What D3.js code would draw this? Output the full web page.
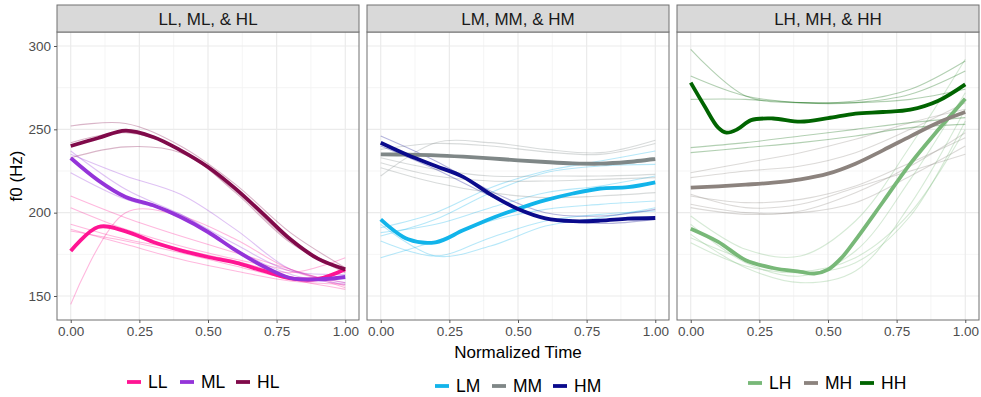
<!DOCTYPE html>
<html><head><meta charset="utf-8">
<script src="https://cdn.jsdelivr.net/npm/d3@7"></script>
<style>body{margin:0;background:#fff;} text{font-family:"Liberation Sans",Arial,sans-serif;}</style>
</head><body><div id="chart"></div>
<script>
// ---------- DATA ----------
const panelTitles = ["LL, ML, & HL", "LM, MM, & HM", "LH, MH, & HH"];
const seriesNames = [["LL","ML","HL"],["LM","MM","HM"],["LH","MH","HH"]];
const seriesColors = {
  LL:"#ff1493", ML:"#9434d9", HL:"#800a4a",
  LM:"#12b4ea", MM:"#7f8787", HM:"#0a0a8c",
  LH:"#78b878", MH:"#8c837e", HH:"#006400"
};
const xTicks = [0, 0.25, 0.5, 0.75, 1];
const xTickLabels = ["0.00","0.25","0.50","0.75","1.00"];
const yTicks = [150, 200, 250, 300];

// time grid for the mean (bold) lines
const tMean = [0, 0.1, 0.2, 0.3, 0.4, 0.5, 0.6, 0.7, 0.8, 0.9, 1];
const meanLL = [177, 191.4, 188.8, 182.4, 177.4, 173.4, 170, 165.2, 160.6, 160.2, 166];
const meanML = [232.8, 219.4, 209.4, 204.4, 197.4, 188.4, 177.5, 168, 160.8, 160, 161.4];
const meanHL = [240, 244.8, 249.2, 245.4, 237.4, 227.4, 214.4, 199.4, 184, 172.4, 166];
const meanLM = [196, 184, 182.2, 189.4, 196.4, 202.3, 207.5, 211.5, 214.5, 215.3, 218.2];
const meanMM = [235, 234.8, 234.4, 233.6, 232.6, 231.4, 230.4, 229.6, 229.4, 230.4, 232.2];
const meanHM = [242, 234.5, 228, 221.5, 211, 202.2, 196.6, 194.9, 195.2, 196.4, 196.8];
const tHH = [0, 0.05, 0.1, 0.13, 0.17, 0.22, 0.3, 0.4, 0.5, 0.6, 0.7, 0.8, 0.9, 1];
const meanHH = [278, 264, 251, 248, 250, 255.5, 256.5, 254.6, 256.7, 259.4, 260.4, 261.8, 267, 277];
const tLH = [0, 0.1, 0.2, 0.3, 0.4, 0.45, 0.5, 0.55, 0.6, 0.7, 0.8, 0.9, 1];
const meanLH = [190.4, 182.5, 171.5, 166.8, 164.5, 163.4, 165.8, 173, 183.5, 206.4, 229.4, 249.4, 268.4];
const meanMH = [215, 215.8, 216.8, 218, 220, 223.4, 229.4, 237.4, 245.8, 254, 260.4];

// time grid for individual (thin) lines
const tThin = [0, 0.2, 0.4, 0.6, 0.8, 1];
const thinLL = [
  [145, 200, 198, 184, 166, 158],
  [210, 197, 186, 176, 166, 156],
  [203, 190, 180, 172, 165, 155],
  [193, 184, 178, 171, 164, 173],
  [189, 183, 176, 168, 160, 154],
  [190, 181, 172, 165, 159, 157]
];
const thinML = [
  [235, 222, 211, 190, 166, 158],
  [224, 208, 199, 178, 163, 157],
  [237, 214, 199, 181, 165, 163]
];
const thinHL = [
  [252, 253.5, 240, 217, 188, 167],
  [233, 239.5, 236, 213, 183, 165],
  [242, 248, 238, 212, 182, 164]
];
const thinLM = [
  [191, 200, 215, 225, 231, 237],
  [186, 196, 212, 224, 228, 229],
  [188, 193, 203, 212, 216, 222],
  [173, 183, 195, 202, 205, 207],
  [193, 174, 180, 192, 197, 203],
  [183, 174, 185, 195, 199, 201]
];
const thinMM = [
  [222, 242, 242, 238, 236, 243.5],
  [238, 241.5, 240, 236.5, 235, 241.5],
  [233, 226, 222, 222, 222, 223],
  [230, 222, 219, 219, 220, 221],
  [227, 218, 212, 209, 210, 212]
];
const thinHM = [
  [246, 231, 213, 200, 198, 202],
  [240, 226, 210, 197, 193.5, 196]
];
const thinLH = [
  [198, 178, 174, 195, 240, 292],
  [193, 170, 162, 177, 220, 272],
  [187, 167, 158, 165, 205, 262],
  [185, 172, 165, 173, 200, 250],
  [182, 168, 164, 170, 198, 255]
];
const thinMH = [
  [224, 230, 236, 244, 254, 262],
  [221, 225, 228, 236, 250, 266],
  [210, 206, 208, 216, 230, 245],
  [205, 200, 200, 206, 222, 240],
  [203, 199, 201, 212, 228, 248],
  [211, 203, 205, 215, 225, 235]
];
const thinHH = [
  [298, 270, 266, 267, 274, 291],
  [282, 270, 266, 266, 271, 285],
  [268, 268, 266, 266, 268, 274],
  [239, 242, 246, 250, 254, 257],
  [236, 239, 242, 246, 251, 253]
];

const panels = [
  { thin: [["LL",thinLL],["ML",thinML],["HL",thinHL]],
    mean: [["LL",tMean,meanLL],["ML",tMean,meanML],["HL",tMean,meanHL]] },
  { thin: [["LM",thinLM],["MM",thinMM],["HM",thinHM]],
    mean: [["LM",tMean,meanLM],["MM",tMean,meanMM],["HM",tMean,meanHM]] },
  { thin: [["LH",thinLH],["MH",thinMH],["HH",thinHH]],
    mean: [["LH",tLH,meanLH],["MH",tMean,meanMH],["HH",tHH,meanHH]] }
];

// ---------- LAYOUT ----------
const W = 981, H = 397;
const panelLeft = [57, 367, 677], panelW = 302;
const stripTop = 5, plotTop = 32, plotBottom = 320;
const legendY = [382, 386, 383];
const legendX = [[127,180,236],[435,492,553],[748,804,860]];

const svg = d3.select("#chart").append("svg").attr("width", W).attr("height", H);
svg.append("rect").attr("width", W).attr("height", H).attr("fill", "#fff");

const y = d3.scaleLinear().domain([135.6, 308.4]).range([plotBottom, plotTop]);
const line = (x) => d3.line().x(d => x(d[0])).y(d => y(d[1])).curve(d3.curveCatmullRom.alpha(0.5));

panels.forEach((p, i) => {
  const L = panelLeft[i];
  const x = d3.scaleLinear().domain([-0.05, 1.05]).range([L, L + panelW]);
  const g = svg.append("g");
  svg.append("clipPath").attr("id", "clip" + i).append("rect")
    .attr("x", L).attr("y", plotTop).attr("width", panelW).attr("height", plotBottom - plotTop);
  // minor grid
  [0.125, 0.375, 0.625, 0.875].forEach(v => g.append("line")
    .attr("x1", x(v)).attr("x2", x(v)).attr("y1", plotTop).attr("y2", plotBottom)
    .attr("stroke", "#f2f2f2").attr("stroke-width", 0.8));
  [175, 225, 275].forEach(v => g.append("line")
    .attr("x1", L).attr("x2", L + panelW).attr("y1", y(v)).attr("y2", y(v))
    .attr("stroke", "#f2f2f2").attr("stroke-width", 0.8));
  // major grid
  xTicks.forEach(v => g.append("line")
    .attr("x1", x(v)).attr("x2", x(v)).attr("y1", plotTop).attr("y2", plotBottom)
    .attr("stroke", "#ebebeb").attr("stroke-width", 1.2));
  yTicks.forEach(v => g.append("line")
    .attr("x1", L).attr("x2", L + panelW).attr("y1", y(v)).attr("y2", y(v))
    .attr("stroke", "#ebebeb").attr("stroke-width", 1.2));

  const lg = svg.append("g").attr("clip-path", `url(#clip${i})`);
  const ln = line(x);
  p.thin.forEach(([name, arr]) => {
    arr.forEach(vals => {
      lg.append("path").attr("d", ln(tThin.map((t, k) => [t, vals[k]])))
        .attr("fill", "none").attr("stroke", seriesColors[name])
        .attr("stroke-opacity", 0.3).attr("stroke-width", 1.1);
    });
  });
  p.mean.forEach(([name, ts, vals]) => {
    lg.append("path").attr("d", ln(ts.map((t, k) => [t, vals[k]])))
      .attr("fill", "none").attr("stroke", seriesColors[name])
      .attr("stroke-width", 3.8).attr("stroke-linejoin", "round").attr("stroke-linecap", "butt");
  });

  // panel border
  svg.append("rect").attr("x", L).attr("y", plotTop).attr("width", panelW).attr("height", plotBottom - plotTop)
    .attr("fill", "none").attr("stroke", "#707070").attr("stroke-width", 1);
  // strip
  svg.append("rect").attr("x", L).attr("y", stripTop).attr("width", panelW).attr("height", plotTop - stripTop)
    .attr("fill", "#d9d9d9").attr("stroke", "#707070").attr("stroke-width", 1);
  svg.append("text").attr("x", L + panelW / 2).attr("y", (stripTop + plotTop) / 2 + 6)
    .attr("text-anchor", "middle").attr("font-size", 17).attr("fill", "#1a1a1a").text(panelTitles[i]);

  // x axis
  const xa = svg.append("g").attr("transform", `translate(0,${plotBottom})`)
    .call(d3.axisBottom(x).tickValues(xTicks).tickFormat((d, k) => xTickLabels[k]).tickSize(3).tickPadding(3));
  xa.select(".domain").remove();
  xa.selectAll("line").attr("stroke", "#555");
  xa.selectAll("text").attr("font-size", 13.5).attr("fill", "#4d4d4d")
    .attr("font-family", "'Liberation Sans',Arial,sans-serif");

  if (i === 0) {
    const ya = svg.append("g").attr("transform", `translate(${L},0)`)
      .call(d3.axisLeft(y).tickValues(yTicks).tickSize(3).tickPadding(3));
    ya.select(".domain").remove();
    ya.selectAll("line").attr("stroke", "#555");
    ya.selectAll("text").attr("font-size", 13.5).attr("fill", "#4d4d4d")
      .attr("font-family", "'Liberation Sans',Arial,sans-serif");
  }

  // legend
  seriesNames[i].forEach((name, k) => {
    const lx = legendX[i][k], ly = legendY[i];
    svg.append("line").attr("x1", lx).attr("x2", lx + 14).attr("y1", ly).attr("y2", ly)
      .attr("stroke", seriesColors[name]).attr("stroke-width", 3.8);
    svg.append("text").attr("x", lx + 21).attr("y", ly + 6).attr("font-size", 17.5)
      .attr("fill", "#000").text(name);
  });
});

// axis titles
svg.append("text").attr("x", 518).attr("y", 358).attr("text-anchor", "middle")
  .attr("font-size", 17).attr("fill", "#000").text("Normalized Time");
svg.append("text").attr("transform", "translate(22,176) rotate(-90)").attr("text-anchor", "middle")
  .attr("font-size", 17).attr("fill", "#000").text("f0 (Hz)");
</script></body></html>
